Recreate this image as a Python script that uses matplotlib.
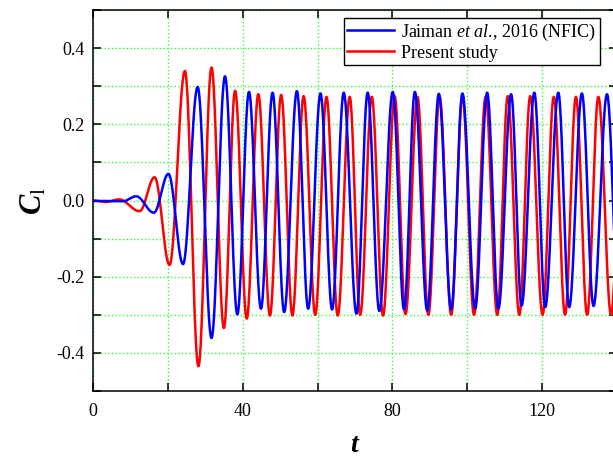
import matplotlib.pyplot as plt
import numpy as np
from matplotlib.ticker import MultipleLocator

# extrema (t, C_l)
jaiman_t = [0, 8, 11.6, 16.3, 20.2, 24.1, 28.0, 31.7, 35.3, 38.6, 41.7, 44.9,
            48.0, 51.1, 54.5, 57.5, 60.8, 63.9, 67.0, 70.4, 73.4, 76.5, 80.1,
            83.1, 86.0, 89.3, 92.4, 95.7, 98.7, 102.1, 105.3, 108.3, 111.7,
            114.5, 117.9, 120.8, 124.3, 127.2, 130.6, 133.7, 137.3, 140.5]
jaiman_cl = [-0.001, -0.002, 0.011, -0.032, 0.070, -0.167, 0.298, -0.361,
             0.326, -0.299, 0.285, -0.284, 0.283, -0.293, 0.287, -0.284, 0.281,
             -0.286, 0.283, -0.297, 0.283, -0.290, 0.285, -0.286, 0.285, -0.289,
             0.280, -0.286, 0.281, -0.284, 0.283, -0.284, 0.279, -0.276, 0.283,
             -0.280, 0.283, -0.280, 0.281, -0.277, 0.279, -0.280]

present_t = [0, 3.5, 7, 12.5, 16.5, 20.5, 24.6, 28.2, 31.7, 35.0, 38.0, 41.1,
             44.2, 47.3, 50.3, 53.3, 56.3, 59.4, 62.4, 65.4, 68.6, 71.4, 74.5,
             77.5, 80.6, 83.5, 86.7, 89.6, 92.6, 95.7, 98.7, 101.8, 104.9,
             108.0, 110.8, 113.9, 116.8, 120.1, 123.1, 126.1, 129.0, 132.0,
             135.0, 138.4, 141.5]
present_cl = [0.0, -0.004, 0.003, -0.028, 0.061, -0.169, 0.340, -0.435, 0.349,
              -0.335, 0.288, -0.310, 0.279, -0.302, 0.277, -0.302, 0.274,
              -0.300, 0.272, -0.302, 0.272, -0.300, 0.272, -0.302, 0.274,
              -0.298, 0.272, -0.300, 0.272, -0.300, 0.272, -0.300, 0.272,
              -0.300, 0.274, -0.300, 0.274, -0.300, 0.272, -0.300, 0.272,
              -0.300, 0.272, -0.300, 0.272]


def smooth(tp, yp, n=40):
    # half-cosine joins between consecutive extrema
    xs, ys = [], []
    for i in range(len(tp) - 1):
        s = np.linspace(0, 1, n, endpoint=False)
        w = (1 - np.cos(np.pi * s)) / 2
        xs.append(tp[i] + (tp[i + 1] - tp[i]) * s)
        ys.append(yp[i] + (yp[i + 1] - yp[i]) * w)
    xs.append([tp[-1]])
    ys.append([yp[-1]])
    return np.concatenate(xs), np.concatenate(ys)


plt.rcParams['font.family'] = 'Liberation Serif'
plt.rcParams['mathtext.fontset'] = 'custom'
plt.rcParams['mathtext.rm'] = 'Liberation Serif'
plt.rcParams['mathtext.it'] = 'Liberation Serif:italic'
plt.rcParams['mathtext.bf'] = 'Liberation Serif:bold'
plt.rcParams['mathtext.bfit'] = 'Liberation Serif:bold:italic'

fig = plt.figure(figsize=(6.13, 4.59), dpi=100)
ax = fig.add_axes([92.8 / 613, 1 - 391 / 459, 524.3 / 613, 381 / 459])

x, y = smooth(present_t, present_cl)
l2, = ax.plot(x, y, color='#ff0000', lw=1.8, label='Present study')
x, y = smooth(jaiman_t, jaiman_cl)
l1, = ax.plot(x, y, color='#0000ff', lw=1.8,
              label=r'Jaiman $\mathit{et\ al}$., 2016 (NFIC)')

ax.set_xlim(0, 140)
ax.set_ylim(-0.5, 0.5)
ax.xaxis.set_major_locator(MultipleLocator(40))
ax.xaxis.set_minor_locator(MultipleLocator(20))
ax.yaxis.set_major_locator(MultipleLocator(0.2))
ax.yaxis.set_minor_locator(MultipleLocator(0.1))
ax.yaxis.set_major_formatter(plt.FuncFormatter(lambda v, p: f'{v:.1f}'))
ax.tick_params(which='both', direction='in', top=True, right=True,
               length=6, width=1.1, labelsize=13, pad=6)
ax.tick_params(axis='x', pad=9)
ax.grid(which='both', color='#33ff33', linestyle=':', linewidth=1.0)
ax.set_axisbelow(True)
for sp in ax.spines.values():
    sp.set_linewidth(1.1)

ax.set_xlabel(r'$\mathbfit{t}$', fontsize=20, labelpad=9)
ax.set_ylabel(r'$\mathbfit{C}_{\mathrm{l}}$', fontsize=22, labelpad=6)

leg = ax.legend(handles=[l1, l2], loc='upper right',
                bbox_to_anchor=(600 / 613, 1 - 18 / 459),
                bbox_transform=fig.transFigure, borderaxespad=0,
                fontsize=13, fancybox=False, framealpha=1, edgecolor='black',
                handlelength=2.6, handletextpad=0.4, labelspacing=0.1,
                borderpad=0.2)
leg.get_frame().set_linewidth(1.0)

fig.savefig('out.png', dpi=100)
